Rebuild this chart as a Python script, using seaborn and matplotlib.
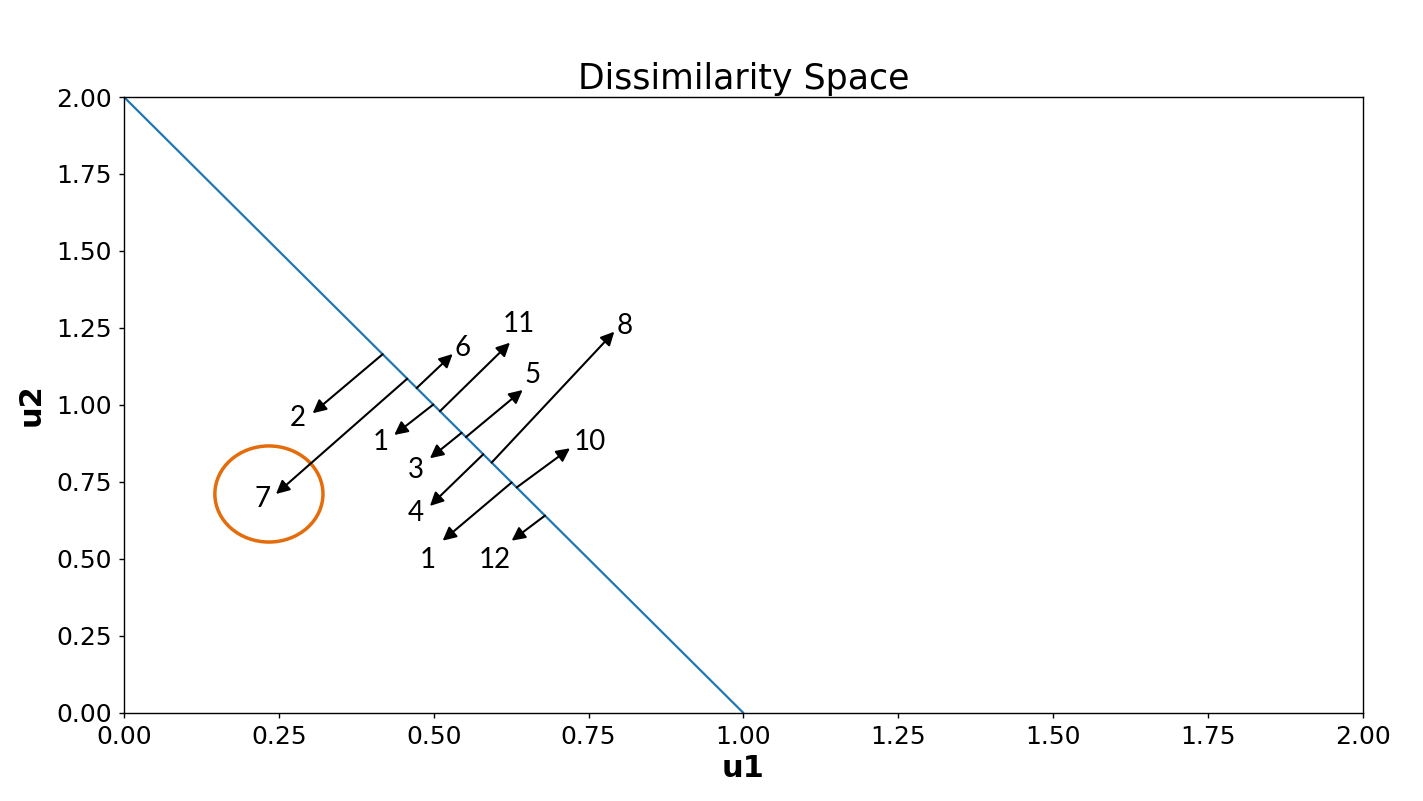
import matplotlib
matplotlib.use("Agg")
import matplotlib.pyplot as plt
from matplotlib.patches import Ellipse
import seaborn as sns
import pandas as pd

# boundary line u2 = 2 - 2*u1
line_u1 = [0.0, 1.0]
line_u2 = [2.0, 0.0]

# arrows: start on the boundary line (u1 coordinate), end point (tip)
arrow_labels = ["2", "7", "6", "1", "11", "3", "5", "4", "8", "1", "10", "12"]
arrow_start_u1 = [0.4176, 0.4573, 0.4725, 0.4993, 0.5101, 0.5451, 0.5521, 0.5800, 0.5935, 0.6258, 0.6339, 0.6796]
arrow_end_u1 = [0.3046, 0.2454, 0.5306, 0.4363, 0.6231, 0.4939, 0.6436, 0.4939, 0.7915, 0.5144, 0.7200, 0.6258]
arrow_end_u2 = [0.9731, 0.7110, 1.1656, 0.9026, 1.2023, 0.8269, 1.0487, 0.6721, 1.2380, 0.5594, 0.8594, 0.5594]
label_u1 = [0.2809, 0.2244, 0.5472, 0.4149, 0.6376, 0.4713, 0.6602, 0.4713, 0.8087, 0.4907, 0.7522, 0.5989]
label_u2 = [0.9580, 0.6950, 1.1853, 0.8801, 1.2632, 0.7892, 1.0976, 0.6496, 1.2567, 0.4970, 0.8801, 0.4970]

# highlighted region
circle_center = (0.2340, 0.7110)
circle_size = (0.1745, 0.3120)

x_ticks = [0.0, 0.25, 0.5, 0.75, 1.0, 1.25, 1.5, 1.75, 2.0]
y_ticks = [0.0, 0.25, 0.5, 0.75, 1.0, 1.25, 1.5, 1.75, 2.0]

sns.set_theme(style="ticks")
plt.rcParams["font.family"] = ["DejaVu Sans"]
plt.rcParams["text.color"] = "black"
plt.rcParams["axes.labelcolor"] = "black"

fig = plt.figure(figsize=(14.23, 8.01), dpi=100)
ax = fig.add_axes([0.0871, 0.1099, 0.8707, 0.7690])

df = pd.DataFrame({"u1": line_u1, "u2": line_u2})
sns.lineplot(data=df, x="u1", y="u2", ax=ax, color="#1f77b4", linewidth=1.6)

for lab, sx, ex, ey, lx, ly in zip(arrow_labels, arrow_start_u1, arrow_end_u1,
                                   arrow_end_u2, label_u1, label_u2):
    sy = 2.0 - 2.0 * sx
    ax.annotate("", xy=(ex, ey), xytext=(sx, sy),
                arrowprops=dict(arrowstyle="-|>", color="black", lw=1.5,
                                mutation_scale=20, shrinkA=0, shrinkB=0))
    ax.text(lx, ly, lab, ha="center", va="center", fontsize=20,
            family=["Lato", "DejaVu Sans"], color="black")

ax.add_patch(Ellipse(circle_center, circle_size[0], circle_size[1],
                     fill=False, edgecolor="#E46C0A", linewidth=2.5))

ax.set_xlim(0, 2)
ax.set_ylim(0, 2)
ax.set_xticks(x_ticks)
ax.set_yticks(y_ticks)
ax.set_xticklabels([f"{v:.2f}" for v in x_ticks])
ax.set_yticklabels([f"{v:.2f}" for v in y_ticks])
ax.tick_params(labelsize=18, colors="black", length=3.5, width=1, pad=5)
for s in ax.spines.values():
    s.set_color("black")
    s.set_linewidth(1)
    s.set_visible(True)

ax.set_title("Dissimilarity Space", fontsize=25, pad=6, color="black")
ax.set_xlabel("u1", fontsize=22, fontweight="bold", labelpad=4, color="black")
ax.set_ylabel("u2", fontsize=22, fontweight="bold", labelpad=8, color="black")

fig.savefig("out.png", dpi=100, facecolor="white")
